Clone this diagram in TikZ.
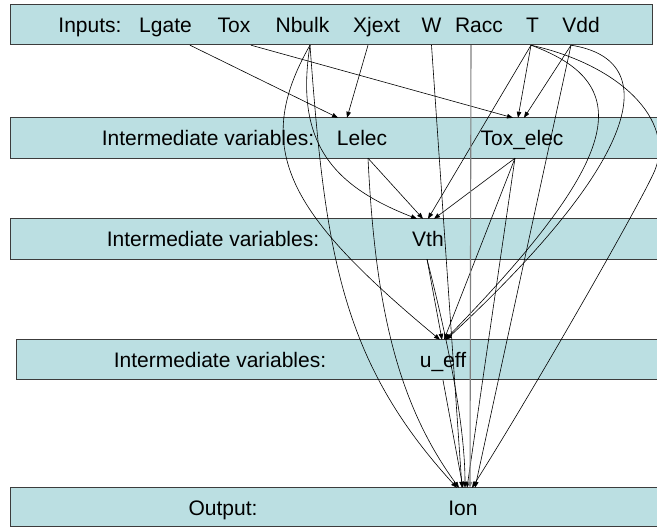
\documentclass[tikz,border=0pt]{standalone}
\usepackage{fontspec}
\setmainfont{Liberation Sans}
\usetikzlibrary{arrows.meta}
\definecolor{panelfill}{RGB}{187,223,226}
\definecolor{panelline}{RGB}{60,60,60}
\tikzset{
  panel/.style={fill=panelfill, draw=panelline, line width=1pt},
  word/.style={anchor=base, inner xsep=0pt, inner ysep=0pt, text height=28pt, text depth=12pt, font=\fontsize{21}{25}\selectfont},
  edge/.style={draw=black, line width=0.6pt, -{Triangle[length=6pt,width=4.5pt]}},
  grayedge/.style={draw=gray, line width=1.1pt, -{Triangle[length=6pt,width=4.5pt]}}
}
\begin{document}
\begin{tikzpicture}[x=1pt,y=-1pt]
\useasboundingbox (0,0) rectangle (657,529);
% panels
\path[panel] (10,5) rectangle (652,45);
\path[panel] (10,118) rectangle (662,159);
\path[panel] (10,219) rectangle (662,260);
\path[panel] (16,340) rectangle (662,380);
\path[panel] (10,488) rectangle (662,527);
% row 1
\node[word] (inputs) at (90,33) {Inputs:};
\node[word] (Lgate) at (165.5,33) {Lgate};
\node[word] (Tox) at (234,33) {Tox};
\node[word] (Nbulk) at (302.5,33) {Nbulk};
\node[word] (Xjext) at (376.5,33) {Xjext};
\node[word] (W) at (431.5,33) {W};
\node[word] (Racc) at (479,33) {Racc};
\node[word] (T) at (532.5,33) {T};
\node[word] (Vdd) at (581,33) {Vdd};
% row 2
\node[word] (iv1) at (208,146) {Intermediate variables:};
\node[word] (Lelec) at (362,146) {Lelec};
\node[word] (Toxelec) at (522,146) {Tox\_elec};
% row 3
\node[word] (iv2) at (213,247) {Intermediate variables:};
\node[word] (Vth) at (428,247) {Vth};
% row 4
\node[word] (iv3) at (220,368) {Intermediate variables:};
\node[word] (ueff) at (443,368) {u\_eff};
% row 5
\node[word] (outlab) at (223,516) {Output:};
\node[word] (Ion) at (463,516) {Ion};
% edges into Lelec
\draw[edge] ([xshift=24.5pt]Lgate.south) -- ([xshift=-24pt]Lelec.north);
\draw[edge] ([xshift=-8.5pt]Xjext.south) -- ([xshift=-15pt]Lelec.north);
% edges into Tox_elec
\draw[edge] ([xshift=17pt]Tox.south) -- ([xshift=-9pt]Toxelec.north);
\draw[edge] ([xshift=-1.5pt]T.south) -- ([xshift=-4pt]Toxelec.north);
\draw[edge] ([xshift=-10pt]Vdd.south) -- ([xshift=2pt]Toxelec.north);
% edges into Vth
\draw[edge] ([xshift=7.5pt]Nbulk.south) .. controls (295,140) and (330,185) .. ([xshift=-11pt]Vth.north);
\draw[edge] ([xshift=6pt]Lelec.south) -- ([xshift=-5pt]Vth.north);
\draw[edge] ([xshift=-1.5pt]T.south) -- (Vth.north);
\draw[edge] ([xshift=-7pt]Toxelec.south) -- ([xshift=6pt]Vth.north);
% edges into u_eff
\draw[edge] ([xshift=7.5pt]Nbulk.south) .. controls (250,150) and (290,215) .. ([xshift=-3pt]ueff.north);
\draw[edge] ([xshift=-1pt]Vth.south) -- ([xshift=-1pt]ueff.north);
\draw[edge] ([xshift=-7pt]Toxelec.south) -- ([xshift=1pt]ueff.north);
\draw[edge] ([xshift=-1.5pt]T.south) .. controls (640,85) and (620,160) .. ([xshift=2pt]ueff.north);
\draw[edge] ([xshift=-10pt]Vdd.south) .. controls (665,60) and (640,160) .. ([xshift=3pt]ueff.north);
% edges into Ion
\draw[edge] ([xshift=7.5pt]Nbulk.south) .. controls (325,250) and (340,360) .. ([xshift=-6pt]Ion.north);
\draw[edge] ([xshift=6pt]Lelec.south) .. controls (375,300) and (395,400) .. ([xshift=-4pt]Ion.north);
\draw[edge] (W.south) -- ([xshift=-1pt]Ion.north);
\draw[edge] (ueff.south) -- (Ion.north);
\draw[edge] ([xshift=-1pt]Vth.south) .. controls (445,330) and (465,420) .. ([xshift=2pt]Ion.north);
\draw[edge] ([xshift=-7pt]Toxelec.south) -- ([xshift=4pt]Ion.north);
\draw[grayedge] ([xshift=-8pt]Racc.south) -- ([xshift=7pt]Ion.north);
\draw[edge] ([xshift=-1.5pt]T.south) .. controls (620,65) and (675,120) .. (655,170) .. controls (645,195) and (540,380) .. ([xshift=9pt]Ion.north);
\draw[edge] ([xshift=-10pt]Vdd.south) -- ([xshift=12pt]Ion.north);
\end{tikzpicture}
\end{document}
